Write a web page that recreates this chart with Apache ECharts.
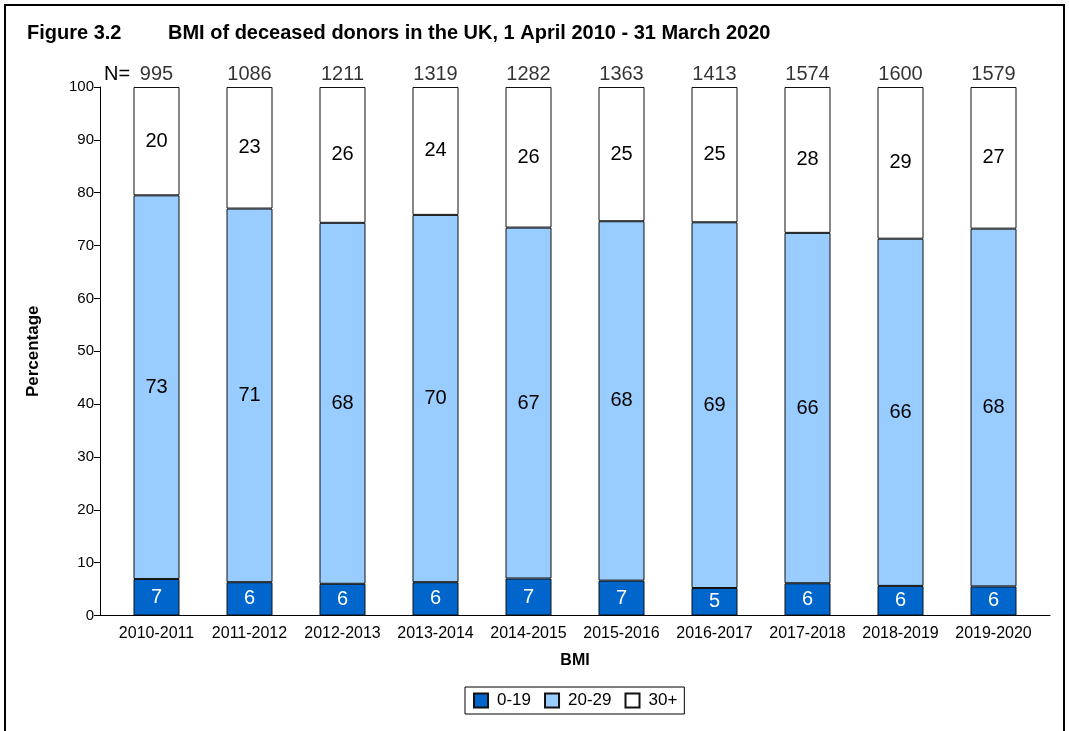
<!DOCTYPE html>
<html>
<head>
<meta charset="utf-8">
<script src="https://cdn.jsdelivr.net/npm/echarts@6/dist/echarts.min.js"></script>
<style>
html,body{margin:0;padding:0;background:#fff;}
#c{width:1069px;height:731px;}
</style>
</head>
<body>
<div id="c"></div>
<script>
const categories = ['2010-2011','2011-2012','2012-2013','2013-2014','2014-2015','2015-2016','2016-2017','2017-2018','2018-2019','2019-2020'];
const nDonors = [995,1086,1211,1319,1282,1363,1413,1574,1600,1579];
// segment heights (percent) as drawn
const bmiLow = [6.9,6.3,6.0,6.3,7.0,6.6,5.2,6.1,5.6,5.5];
const bmiMid = [72.6,70.7,68.3,69.5,66.4,68.0,69.2,66.3,65.7,67.7];
const bmiHigh = [20.5,23.0,25.7,24.2,26.6,25.4,25.6,27.6,28.7,26.8];
// printed labels
const labelLow = [7,6,6,6,7,7,5,6,6,6];
const labelMid = [73,71,68,70,67,68,69,66,66,68];
const labelHigh = [20,23,26,24,26,25,25,28,29,27];
const yTicks = [0,10,20,30,40,50,60,70,80,90,100];

const FONT = 'Liberation Sans, Arial, sans-serif';
const chart = echarts.init(document.getElementById('c'), null, {renderer:'canvas'});

function segLabel(arr, color){
  return {show:true, position:'inside', color:color, fontSize:20, fontFamily:FONT,
    formatter: p => String(arr[p.dataIndex])};
}

const option = {
  animation:false,
  backgroundColor:'#fff',
  textStyle:{fontFamily:FONT},
  graphic:[
    {type:'rect', shape:{x:5,y:5,width:1059,height:800}, style:{fill:'none', stroke:'#000', lineWidth:2}, silent:true},
    {type:'text', left:27, top:23, style:{text:'Figure 3.2', font:'bold 20px '+FONT, fill:'#000'}},
    {type:'text', left:168, top:23, style:{text:'BMI of deceased donors in the UK, 1 April 2010 - 31 March 2020', font:'bold 20px '+FONT, fill:'#000'}},
    {type:'text', left:104, top:64, style:{text:'N=', font:'20px '+FONT, fill:'#000'}}
  ],
  legend:{
    data:['0-19','20-29','30+'],
    top:687, left:465,
    itemWidth:14, itemHeight:14, itemGap:13,
    icon:'rect',
    borderColor:'#000', borderWidth:1, padding:[5,7,5,8],
    textStyle:{fontSize:17, color:'#000', fontFamily:FONT, padding:[0,0,0,4]}
  },
  grid:[
    {left:110, right:29, top:87, bottom:115.5},
    {left:100, right:19, top:87, bottom:115.5}
  ],
  xAxis:[
    {type:'category', data:categories, gridIndex:0,
     axisLine:{show:false}, axisTick:{show:false},
     axisLabel:{fontSize:16, color:'#000', margin:10, interval:0, fontFamily:FONT},
     name:'BMI', nameLocation:'middle', nameGap:37,
     nameTextStyle:{fontWeight:'bold', fontSize:16, color:'#000', fontFamily:FONT}},
    {type:'value', gridIndex:1, min:0, max:1,
     axisLine:{show:true, lineStyle:{color:'#000', width:1}},
     axisTick:{show:false}, axisLabel:{show:false}, splitLine:{show:false}}
  ],
  yAxis:[
    {type:'value', gridIndex:0, min:0, max:100, interval:10, offset:10,
     axisLine:{show:true, lineStyle:{color:'#000', width:1}},
     axisTick:{show:true, length:6, lineStyle:{color:'#000'}},
     axisLabel:{fontSize:15, color:'#000', margin:6, fontFamily:FONT,
       formatter: v => yTicks.indexOf(v) >= 0 ? String(v) : ''},
     splitLine:{show:false},
     name:'Percentage', nameLocation:'middle', nameGap:58, nameRotate:90,
     nameTextStyle:{fontWeight:'bold', fontSize:17, color:'#000', fontFamily:FONT}},
    {type:'value', gridIndex:1, show:false, min:0, max:1}
  ],
  series:[
    {name:'0-19', type:'bar', stack:'bmi', data:bmiLow, barWidth:46,
     itemStyle:{color:'#0066CC', borderColor:'#111', borderWidth:1},
     label:segLabel(labelLow,'#fff')},
    {name:'20-29', type:'bar', stack:'bmi', data:bmiMid, barWidth:46,
     itemStyle:{color:'#99CCFF', borderColor:'#111', borderWidth:1},
     label:segLabel(labelMid,'#000')},
    {name:'30+', type:'bar', stack:'bmi', data:bmiHigh, barWidth:46,
     itemStyle:{color:'#FFFFFF', borderColor:'#111', borderWidth:1},
     label:segLabel(labelHigh,'#000')},
    {name:'N', type:'scatter', symbolSize:0, silent:true,
     data: nDonors.map(() => 100),
     label:{show:true, position:'top', distance:3, color:'#000', fontSize:20, fontFamily:FONT,
       formatter: p => String(nDonors[p.dataIndex])}}
  ]
};
chart.setOption(option);
</script>
</body>
</html>
